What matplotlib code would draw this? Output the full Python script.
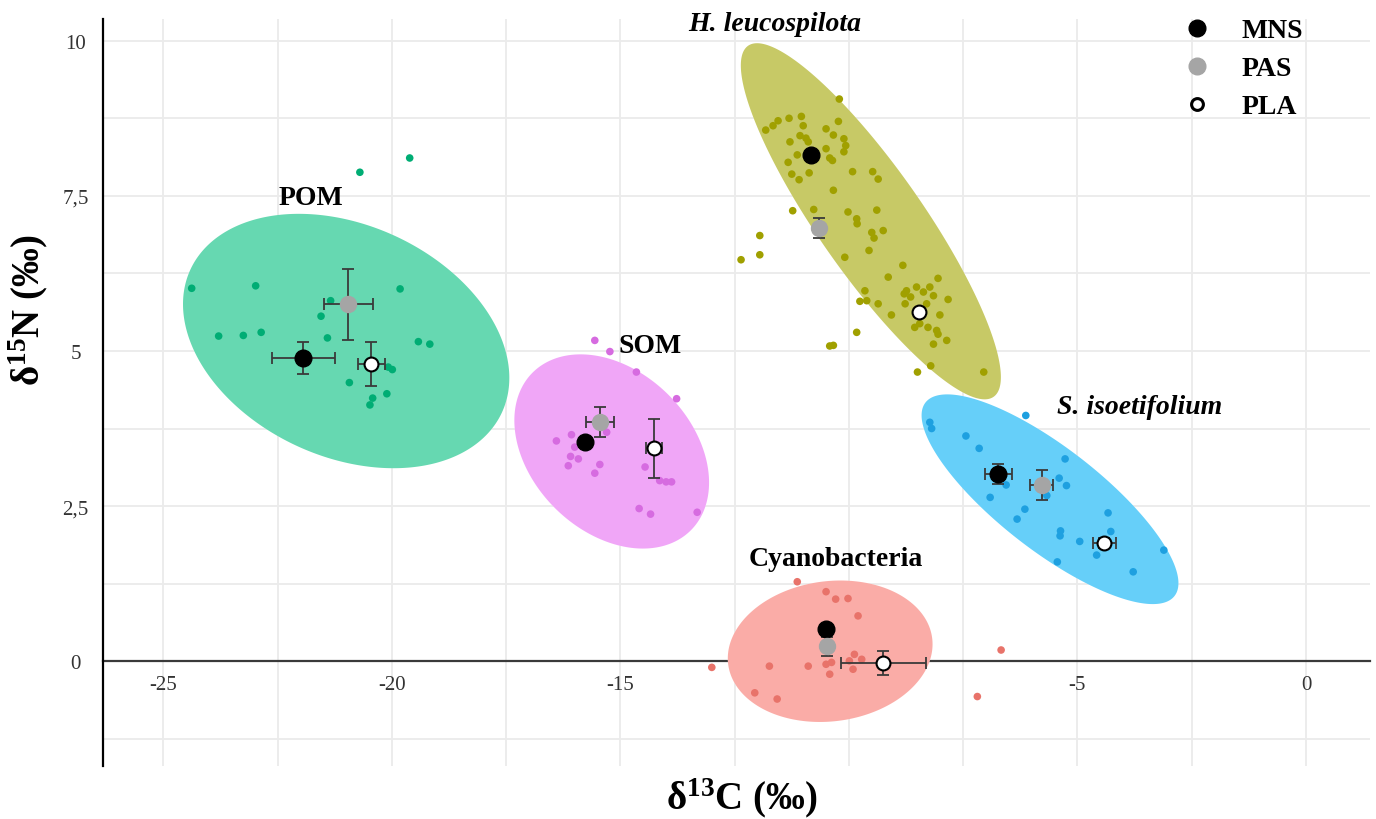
import numpy as np
import matplotlib
matplotlib.use('Agg')
import matplotlib.pyplot as plt
from matplotlib.lines import Line2D

plt.rcParams['font.family'] = ['Liberation Serif', 'DejaVu Serif']
plt.rcParams['mathtext.fontset'] = 'custom'
plt.rcParams['mathtext.rm'] = 'Liberation Serif'
plt.rcParams['mathtext.bf'] = 'Liberation Serif:bold'
plt.rcParams['mathtext.it'] = 'Liberation Serif:italic'

# ---------------- data ----------------
groups = ['Cyanobacteria', 'H. leucospilota', 'POM', 'S. isoetifolium', 'SOM']
group_colors = ['#F8766D', '#A3A500', '#00BF7D', '#00B0F6', '#E76BF3']
point_colors = ['#E8736A', '#A0A000', '#00AD74', '#1EA0E0', '#D66BE0']
group_italic = [False, True, False, True, False]

cyano_d13c = [-11.13, -10.50, -10.29, -10.02, -9.80, -9.88, -9.72, -9.99, -10.50, -10.38,
              -10.89, -11.74, -13.00, -10.42, -9.91, -12.06, -11.57, -6.67, -7.19]
cyano_d15n = [1.28, 1.12, 1.00, 1.01, 0.73, 0.11, 0.03, 0.005, -0.05, -0.02,
              -0.08, -0.08, -0.10, -0.21, -0.13, -0.51, -0.61, 0.18, -0.57]

holo_d13c = [-10.21, -11.82, -11.66, -11.55, -11.31, -11.04, -11.00, -11.07, -10.94, -10.89,
             -11.29, -11.13, -11.33, -11.25, -11.09, -10.87, -10.50, -10.34, -10.23, -10.11,
             -10.07, -10.11, -10.50, -10.42, -10.36, -9.92, -9.48, -9.36, -10.34, -11.23,
             -10.77, -10.02, -9.83, -9.82, -9.39, -9.50, -9.45, -9.25, -10.09, -9.56,
             -8.82, -9.14, -8.05, -9.65, -8.74, -8.52, -8.37, -8.23, -8.15, -9.76,
             -9.61, -9.36, -8.77, -7.83, -8.30, -9.07, -8.01, -8.56, -8.45, -8.27,
             -8.08, -8.05, -7.86, -8.15, -9.83, -10.42, -10.34, -8.50, -8.21, -7.05,
             -11.95, -11.95, -12.36, -8.79, -8.65]
holo_d15n = [9.06, 8.56, 8.63, 8.71, 8.75, 8.78, 8.63, 8.47, 8.43, 8.37,
             8.37, 8.16, 8.04, 7.85, 7.76, 7.87, 8.58, 8.48, 8.70, 8.42,
             8.31, 8.21, 8.26, 8.11, 8.07, 7.89, 7.89, 7.77, 7.59, 7.26,
             7.28, 7.24, 7.13, 7.05, 7.27, 6.91, 6.82, 6.94, 6.51, 6.62,
             6.38, 6.19, 6.17, 5.97, 5.97, 6.03, 5.95, 6.03, 5.89, 5.80,
             5.81, 5.76, 5.76, 5.83, 5.76, 5.58, 5.58, 5.38, 5.44, 5.38,
             5.33, 5.27, 5.17, 5.11, 5.30, 5.08, 5.09, 4.66, 4.76, 4.66,
             6.86, 6.55, 6.47, 5.92, 5.87]

pom_d13c = [-19.61, -20.70, -24.38, -22.98, -19.82, -21.34, -21.55, -23.79, -23.25, -22.86,
            -21.41, -19.42, -19.17, -20.08, -19.99, -20.93, -20.11, -20.42, -20.48]
pom_d15n = [8.11, 7.88, 6.01, 6.05, 6.00, 5.81, 5.56, 5.24, 5.25, 5.30,
            5.21, 5.15, 5.11, 4.74, 4.70, 4.49, 4.31, 4.24, 4.13]

syr_d13c = [-8.23, -8.19, -6.13, -7.44, -7.15, -5.27, -5.40, -5.24, -6.56, -6.91, -5.67,
            -6.15, -6.32, -4.33, -4.27, -5.37, -5.38, -4.95, -4.58, -5.44, -3.78, -3.11]
syr_d15n = [3.85, 3.75, 3.96, 3.63, 3.43, 3.26, 2.95, 2.83, 2.84, 2.64, 2.67,
            2.45, 2.29, 2.39, 2.09, 2.10, 2.02, 1.93, 1.71, 1.60, 1.44, 1.79]

som_d13c = [-15.56, -15.23, -14.65, -13.77, -15.30, -16.07, -16.40, -16.00, -16.09, -15.92,
            -16.14, -15.45, -15.56, -14.46, -14.14, -14.00, -13.88, -14.59, -14.34, -13.32]
som_d15n = [5.17, 4.99, 4.66, 4.23, 3.69, 3.65, 3.55, 3.45, 3.30, 3.26,
            3.15, 3.17, 3.03, 3.13, 2.91, 2.89, 2.89, 2.46, 2.37, 2.40]

points_d13c = [cyano_d13c, holo_d13c, pom_d13c, syr_d13c, som_d13c]
points_d15n = [cyano_d15n, holo_d15n, pom_d15n, syr_d15n, som_d15n]

# standard ellipses: centre, SD in x, SD in y, correlation
ell_cx = [-10.41, -9.52, -21.00, -5.60, -15.19]
ell_cy = [0.16, 7.09, 5.16, 2.61, 3.38]
ell_sx = [2.24, 2.845, 3.57, 2.81, 2.13]
ell_sy = [1.14, 2.87, 2.05, 1.69, 1.565]
ell_rho = [0.10, -0.875, -0.29, -0.80, -0.32]

# group label positions
label_x = [-10.28, -11.62, -21.77, -3.63, -14.35]
label_y = [1.66, 10.27, 7.48, 4.11, 5.09]

# site means (MNS, PAS, PLA) per group, with error bars
sites = ['MNS', 'PAS', 'PLA']
mns_x = [-10.50, -10.84, -21.94, -6.73, -15.78]
mns_y = [0.52, 8.16, 4.89, 3.02, 3.53]
mns_xerr = [0.0, 0.0, 0.69, 0.30, 0.0]
mns_yerr = [0.0, 0.0, 0.26, 0.16, 0.0]

pas_x = [-10.47, -10.65, -20.95, -5.78, -15.45]
pas_y = [0.24, 6.98, 5.75, 2.84, 3.85]
pas_xerr = [0.05, 0.08, 0.54, 0.25, 0.30]
pas_yerr = [0.15, 0.16, 0.57, 0.24, 0.24]

pla_x = [-9.25, -8.47, -20.45, -4.41, -14.27]
pla_y = [-0.03, 5.62, 4.79, 1.91, 3.43]
pla_xerr = [0.93, 0.0, 0.29, 0.26, 0.18]
pla_yerr = [0.20, 0.0, 0.36, 0.08, 0.47]

xtick_vals = [-25, -20, -15, -10, -5, 0]
xtick_labels = ['-25', '-20', '-15', '-10', '-5', '0']
xminor_vals = [-22.5, -17.5, -12.5, -7.5, -2.5]
ytick_vals = [0, 2.5, 5, 7.5, 10]
ytick_labels = ['0', '2,5', '5', '7,5', '10']
yminor_vals = [-1.25, 1.25, 3.75, 6.25, 8.75]


def ellipse_xy(cx, cy, sx, sy, rho, n=400):
    t = np.linspace(0, 2 * np.pi, n)
    x = cx + sx * np.cos(t)
    y = cy + sy * (rho * np.cos(t) + np.sqrt(1 - rho ** 2) * np.sin(t))
    return x, y


# ---------------- figure ----------------
fig = plt.figure(figsize=(13.76, 8.2), dpi=100)
ax = fig.add_axes([0.0752, 0.0646, 0.9204, 0.9110])
ax.set_xlim(-26.31, 1.40)
ax.set_ylim(-1.69, 10.35)

# white underlay hides grid / zero line beneath ellipses
for i in range(len(groups)):
    ex, ey = ellipse_xy(ell_cx[i], ell_cy[i], ell_sx[i], ell_sy[i], ell_rho[i])
    ax.fill(ex, ey, color='white', lw=0, zorder=0.8)
for i in range(len(groups)):
    ex, ey = ellipse_xy(ell_cx[i], ell_cy[i], ell_sx[i], ell_sy[i], ell_rho[i])
    ax.fill(ex, ey, color=group_colors[i], alpha=0.6, lw=0, zorder=1)

for i in range(len(groups)):
    ax.scatter(points_d13c[i], points_d15n[i], s=30, color=point_colors[i],
               edgecolors='none', zorder=2)

err_kw = dict(fmt='none', ecolor='#3a3a3a', elinewidth=1.3, capsize=4.5,
              capthick=1.3, zorder=3)
ax.errorbar(mns_x, mns_y, xerr=mns_xerr, yerr=mns_yerr, **err_kw)
ax.errorbar(pas_x, pas_y, xerr=pas_xerr, yerr=pas_yerr, **err_kw)
ax.errorbar(pla_x, pla_y, xerr=pla_xerr, yerr=pla_yerr, **err_kw)

ax.plot(mns_x, mns_y, 'o', ms=12, mfc='black', mec='black', mew=1, ls='none', zorder=4)
ax.plot(pas_x, pas_y, 'o', ms=11.5, mfc='#a5a5a5', mec='#a5a5a5', mew=1, ls='none', zorder=4)
ax.plot(pla_x, pla_y, 'o', ms=10, mfc='white', mec='black', mew=1.5, ls='none', zorder=4)

for i, g in enumerate(groups):
    ax.text(label_x[i], label_y[i], g, ha='center', va='center', fontsize=20,
            fontweight='bold', fontstyle='italic' if group_italic[i] else 'normal',
            color='black', zorder=5)

# axes styling
ax.set_xticks(xtick_vals)
ax.set_xticklabels(xtick_labels)
ax.set_xticks(xminor_vals, minor=True)
ax.set_yticks(ytick_vals)
ax.set_yticklabels(ytick_labels)
ax.set_yticks(yminor_vals, minor=True)
ax.grid(True, which='both', color='#ebebeb', lw=1.3)
ax.set_axisbelow(True)
ax.tick_params(which='both', length=0)
ax.tick_params(axis='x', pad=10, labelsize=15, labelcolor='#333333')
ax.tick_params(axis='y', pad=20, labelsize=15, labelcolor='#333333')
for lab in ax.get_yticklabels():
    lab.set_horizontalalignment('center')

for s in ['top', 'right']:
    ax.spines[s].set_visible(False)
ax.spines['bottom'].set_position(('data', 0))
ax.spines['bottom'].set_color('#3a3a3a')
ax.spines['bottom'].set_linewidth(1.6)
ax.spines['bottom'].set_zorder(0.6)
ax.spines['left'].set_color('black')
ax.spines['left'].set_linewidth(1.6)

fig.text(742 / 1376, 1 - 798 / 820, 'δ$^{\\mathbf{13}}$C (‰)', ha='center', va='center',
         fontsize=28, fontweight='bold')
fig.text(28 / 1376, 1 - 310 / 820, 'δ$^{\\mathbf{15}}$N (‰)', ha='center', va='center',
         fontsize=28, fontweight='bold', rotation=90)

handles = [
    Line2D([], [], marker='o', ls='none', ms=12, mfc='black', mec='black'),
    Line2D([], [], marker='o', ls='none', ms=12, mfc='#a5a5a5', mec='#a5a5a5'),
    Line2D([], [], marker='o', ls='none', ms=8.5, mfc='white', mec='black', mew=2.2),
]
fig.legend(handles, sites, loc='upper left', bbox_to_anchor=(1183 / 1376, 1 - 19 / 820),
           frameon=False, borderpad=0, borderaxespad=0, handlelength=1.0,
           handletextpad=1.1, labelspacing=0.45,
           prop={'family': 'Liberation Serif', 'weight': 'bold', 'size': 20})

fig.savefig('out.png', dpi=100)
